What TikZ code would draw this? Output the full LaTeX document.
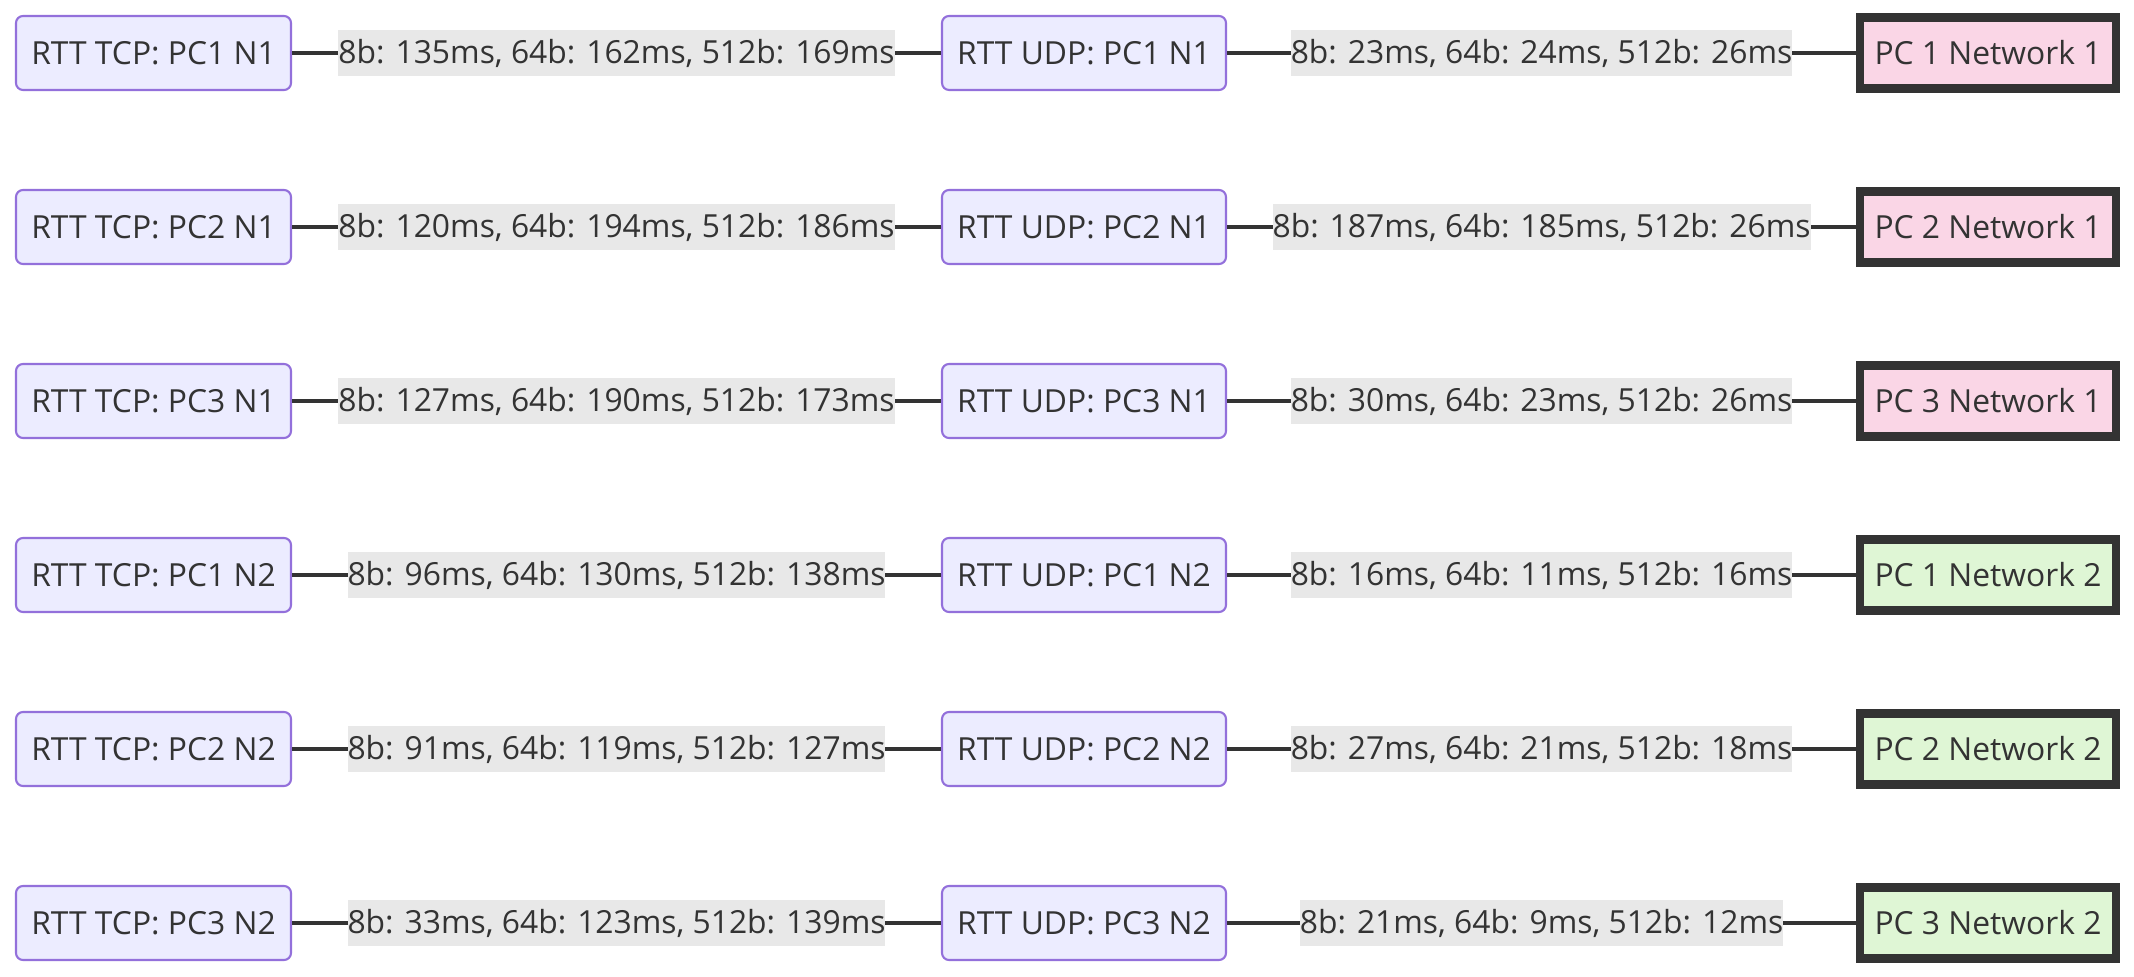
\documentclass[tikz,border=0pt]{standalone}
\usepackage{fontspec}
\setmainfont{Open Sans}
\usetikzlibrary{positioning}

\definecolor{boxfill}{HTML}{ECECFF}
\definecolor{boxline}{HTML}{9370DB}
\definecolor{ink}{HTML}{333333}
\definecolor{lblfill}{HTML}{E8E8E8}
\definecolor{netone}{HTML}{FAD6E6}
\definecolor{nettwo}{HTML}{DFF6D5}

\tikzset{
	rtt/.style={draw=boxline, fill=boxfill, rounded corners=2pt, line width=0.6pt,
		minimum height=0.74cm, inner sep=0pt, text=ink},
	tcpbox/.style={rtt, minimum width=2.75cm},
	udpbox/.style={rtt, minimum width=2.84cm},
	netbox/.style={draw=ink, line width=2.3pt, minimum width=2.56cm, minimum height=0.71cm,
		inner sep=0pt, text=ink},
	netA/.style={netbox, fill=netone},
	netB/.style={netbox, fill=nettwo},
	link/.style={draw=ink, line width=1.1pt},
	times/.style={fill=lblfill, inner xsep=0pt, inner ysep=0pt, minimum height=0.46cm, text=ink}
}

\begin{document}
\begin{tikzpicture}[font=\fontsize{9.05pt}{11pt}\selectfont]

\useasboundingbox (0,0) rectangle (21.34,9.76);

% PC1 NETWORK 1

\node[tcpbox] (tcp1) at (1.535,9.23) {RTT TCP: PC1 N1};
\node[udpbox] (udp1) at (10.84,9.23) {RTT UDP: PC1 N1};
\node[netA] (net1) at (19.88,9.23) {PC 1 Network 1};
\draw[link] (tcp1) -- node[times] (t1) {8b: 135ms, 64b: 162ms, 512b: 169ms} (udp1);
\draw[link] (udp1) -- node[times] (u1) {8b: 23ms, 64b: 24ms, 512b: 26ms} (net1);

% PC2 NETWORK 1

\node[tcpbox] (tcp2) at (1.535,7.49) {RTT TCP: PC2 N1};
\node[udpbox] (udp2) at (10.84,7.49) {RTT UDP: PC2 N1};
\node[netA] (net2) at (19.88,7.49) {PC 2 Network 1};
\draw[link] (tcp2) -- node[times] (t2) {8b: 120ms, 64b: 194ms, 512b: 186ms} (udp2);
\draw[link] (udp2) -- node[times] (u2) {8b: 187ms, 64b: 185ms, 512b: 26ms} (net2);

% PC3 NETWORK 1

\node[tcpbox] (tcp3) at (1.535,5.75) {RTT TCP: PC3 N1};
\node[udpbox] (udp3) at (10.84,5.75) {RTT UDP: PC3 N1};
\node[netA] (net3) at (19.88,5.75) {PC 3 Network 1};
\draw[link] (tcp3) -- node[times] (t3) {8b: 127ms, 64b: 190ms, 512b: 173ms} (udp3);
\draw[link] (udp3) -- node[times] (u3) {8b: 30ms, 64b: 23ms, 512b: 26ms} (net3);

% PC1 NETWORK 2

\node[tcpbox] (tcp4) at (1.535,4.01) {RTT TCP: PC1 N2};
\node[udpbox] (udp4) at (10.84,4.01) {RTT UDP: PC1 N2};
\node[netB] (net4) at (19.88,4.01) {PC 1 Network 2};
\draw[link] (tcp4) -- node[times] (t4) {8b: 96ms, 64b: 130ms, 512b: 138ms} (udp4);
\draw[link] (udp4) -- node[times] (u4) {8b: 16ms, 64b: 11ms, 512b: 16ms} (net4);

% PC2 NETWORK 2

\node[tcpbox] (tcp5) at (1.535,2.27) {RTT TCP: PC2 N2};
\node[udpbox] (udp5) at (10.84,2.27) {RTT UDP: PC2 N2};
\node[netB] (net5) at (19.88,2.27) {PC 2 Network 2};
\draw[link] (tcp5) -- node[times] (t5) {8b: 91ms, 64b: 119ms, 512b: 127ms} (udp5);
\draw[link] (udp5) -- node[times] (u5) {8b: 27ms, 64b: 21ms, 512b: 18ms} (net5);

% PC3 NETWORK 2

\node[tcpbox] (tcp6) at (1.535,0.53) {RTT TCP: PC3 N2};
\node[udpbox] (udp6) at (10.84,0.53) {RTT UDP: PC3 N2};
\node[netB] (net6) at (19.88,0.53) {PC 3 Network 2};
\draw[link] (tcp6) -- node[times] (t6) {8b: 33ms, 64b: 123ms, 512b: 139ms} (udp6);
\draw[link] (udp6) -- node[times] (u6) {8b: 21ms, 64b: 9ms, 512b: 12ms} (net6);

\end{tikzpicture}
\end{document}
